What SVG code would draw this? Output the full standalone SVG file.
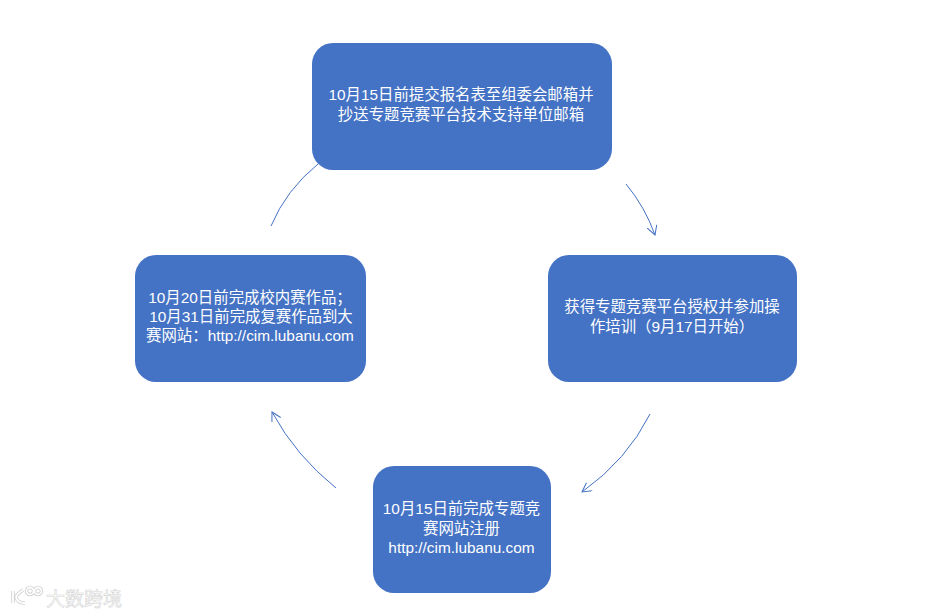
<svg xmlns="http://www.w3.org/2000/svg" width="938" height="616" viewBox="0 0 938 616">
<style>
.box{fill:#4472c4}
.t{font-family:"Liberation Sans","Noto Sans CJK SC",sans-serif;font-size:15.4px;fill:#fff;text-anchor:middle}
.c{fill:none;stroke:#4472c4;stroke-width:1}
.wm{font-family:"Noto Sans CJK SC",sans-serif;font-size:19px;fill:#fff;stroke:#d4d4d4;stroke-width:.6px}
.lo{fill:none;stroke:#cfcfcf;stroke-width:3.4}
.li{fill:none;stroke:#fff;stroke-width:1.8}
</style>
<defs>
<marker id="a" markerWidth="12" markerHeight="12" refX="10" refY="5" orient="auto" markerUnits="userSpaceOnUse"><path d="M1 0L10 5L1 10" fill="none" stroke="#4472c4" stroke-width="1"/></marker>
</defs>
<rect width="938" height="616" fill="#fff"/>
<g id="connectors">
<path class="c" d="M626 184Q645 207 655 235" marker-end="url(#a)"/>
<path class="c" d="M650 414Q627 460 582 492" marker-end="url(#a)"/>
<path class="c" d="M336 488Q296 456 272 412" marker-end="url(#a)"/>
<path class="c" d="M271 226Q286 190 318 164"/>
</g>
<g id="node-top"><rect class="box" x="312" y="43" width="300" height="127" rx="21"/>
<text class="t" x="461" y="100">10月15日前提交报名表至组委会邮箱并</text>
<text class="t" x="461" y="120">抄送专题竞赛平台技术支持单位邮箱</text></g>
<g id="node-right"><rect class="box" x="548" y="255" width="249" height="127" rx="21"/>
<text class="t" x="672" y="312">获得专题竞赛平台授权并参加操</text>
<text class="t" x="672" y="332">作培训（9月17日开始）</text></g>
<g id="node-bottom"><rect class="box" x="373" y="466" width="178" height="127" rx="21"/>
<text class="t" x="461.500" y="514">10月15日前完成专题竞</text>
<text class="t" x="461.500" y="534">赛网站注册</text>
<text class="t" x="461.500" y="553">http://cim.lubanu.com</text></g>
<g id="node-left"><rect class="box" x="135" y="255" width="231" height="127" rx="21"/>
<text class="t" x="250" y="303">10月20日前完成校内赛作品；</text>
<text class="t" x="251" y="322">10月31日前完成复赛作品到大</text>
<text class="t" x="250" y="341">赛网站：http://cim.lubanu.com</text></g>
<g id="watermark">
<path class="lo" d="M13 591V603M23 590Q16 595 16 597Q17 603 25 603"/>
<circle class="lo" cx="30" cy="591" r="3.500"/><circle class="lo" cx="38" cy="591" r="3.500"/>
<path class="li" d="M13 591V603M23 590Q16 595 16 597Q17 603 25 603"/>
<circle class="li" cx="30" cy="591" r="3.500"/><circle class="li" cx="38" cy="591" r="3.500"/>
<text class="wm" x="46" y="606">大数跨境</text>
</g>
</svg>
